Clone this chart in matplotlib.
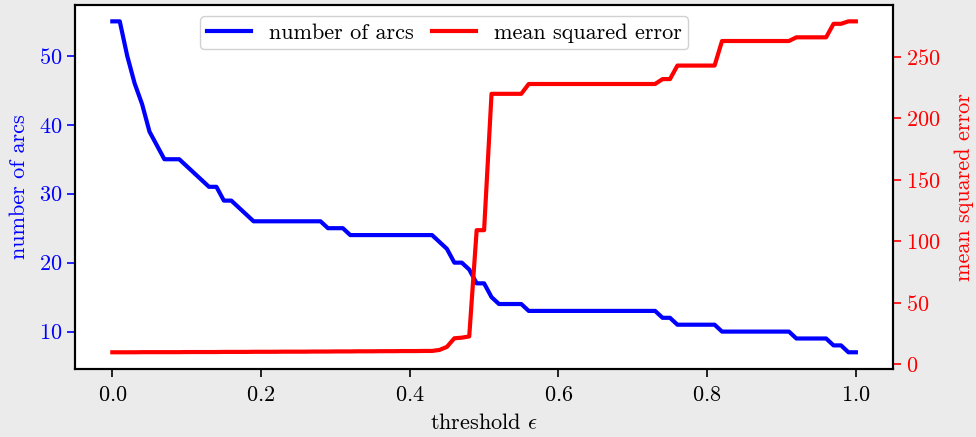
import numpy as np
import matplotlib
matplotlib.use("Agg")
import matplotlib.pyplot as plt

plt.rcParams["font.family"] = "serif"
plt.rcParams["font.serif"] = ["cmr10"]
plt.rcParams["mathtext.fontset"] = "cm"
plt.rcParams["axes.formatter.use_mathtext"] = True
plt.rcParams["font.size"] = 16

# threshold sweep, 0.00 .. 1.00 in steps of 0.01
thresholds = np.round(np.arange(0, 101) * 0.01, 2)

n_arcs = [
    55, 55, 50, 46, 43, 39, 37, 35, 35, 35,   # 0.00 - 0.09
    34, 33, 32, 31, 31, 29, 29, 28, 27, 26,   # 0.10 - 0.19
    26, 26, 26, 26, 26, 26, 26, 26, 26, 25,   # 0.20 - 0.29
    25, 25, 24, 24, 24, 24, 24, 24, 24, 24,   # 0.30 - 0.39
    24, 24, 24, 24, 23, 22, 20, 20, 19, 17,   # 0.40 - 0.49
    17, 15, 14, 14, 14, 14, 13, 13, 13, 13,   # 0.50 - 0.59
    13, 13, 13, 13, 13, 13, 13, 13, 13, 13,   # 0.60 - 0.69
    13, 13, 13, 13, 12, 12, 11, 11, 11, 11,   # 0.70 - 0.79
    11, 11, 10, 10, 10, 10, 10, 10, 10, 10,   # 0.80 - 0.89
    10, 10, 9, 9, 9, 9, 9, 8, 8, 7,           # 0.90 - 0.99
    7,                                        # 1.00
]

mse = [
    9.6, 9.6, 9.6, 9.6, 9.7, 9.7, 9.7, 9.7, 9.7, 9.7,            # 0.00 - 0.09
    9.8, 9.8, 9.8, 9.8, 9.8, 9.9, 9.9, 9.9, 9.9, 10.0,           # 0.10 - 0.19
    10.0, 10.0, 10.0, 10.1, 10.1, 10.1, 10.1, 10.2, 10.2, 10.2,  # 0.20 - 0.29
    10.3, 10.3, 10.3, 10.4, 10.4, 10.4, 10.5, 10.5, 10.5, 10.6,  # 0.30 - 0.39
    10.6, 10.6, 10.7, 10.7, 11.5, 14.0, 21.0, 21.5, 22.5, 109,   # 0.40 - 0.49
    109, 220, 220, 220, 220, 220, 228, 228, 228, 228,            # 0.50 - 0.59
    228, 228, 228, 228, 228, 228, 228, 228, 228, 228,            # 0.60 - 0.69
    228, 228, 228, 228, 232, 232, 243, 243, 243, 243,            # 0.70 - 0.79
    243, 243, 263, 263, 263, 263, 263, 263, 263, 263,            # 0.80 - 0.89
    263, 263, 266, 266, 266, 266, 266, 277, 277, 279,            # 0.90 - 0.99
    279,                                                         # 1.00
]

fig = plt.figure(figsize=(9.76, 4.37), dpi=100, facecolor="#ebebeb")
ax = fig.add_axes([0.077, 0.156, 0.838, 0.833])
ax2 = ax.twinx()

l1, = ax.plot(thresholds, n_arcs, color="blue", lw=3, label="number of arcs")
l2, = ax2.plot(thresholds, mse, color="red", lw=3, label="mean squared error")

ax.set_xlabel(r"threshold $\epsilon$", labelpad=6)
ax.set_ylabel("number of arcs", color="blue", labelpad=7)
ax2.set_ylabel("mean squared error", color="red", labelpad=10)

ax.tick_params(axis="x", length=6, width=1.2, pad=6)
ax.tick_params(axis="y", colors="blue", length=6, width=1.2)
ax2.tick_params(axis="y", colors="red", length=6, width=1.2)
ax.set_xticks([0.0, 0.2, 0.4, 0.6, 0.8, 1.0])
ax.set_yticks([10, 20, 30, 40, 50])
ax2.set_yticks([0, 50, 100, 150, 200, 250])

for a in (ax, ax2):
    for s in a.spines.values():
        s.set_linewidth(1.5)

ax.legend(handles=[l1, l2], ncol=2, loc="upper left",
          bbox_to_anchor=(0.153, 0.968), borderaxespad=0,
          framealpha=0.9, edgecolor="#cccccc", fancybox=True,
          handlelength=2.0, columnspacing=0.8, borderpad=0.3)

fig.savefig("out.png", dpi=100, facecolor=fig.get_facecolor())
